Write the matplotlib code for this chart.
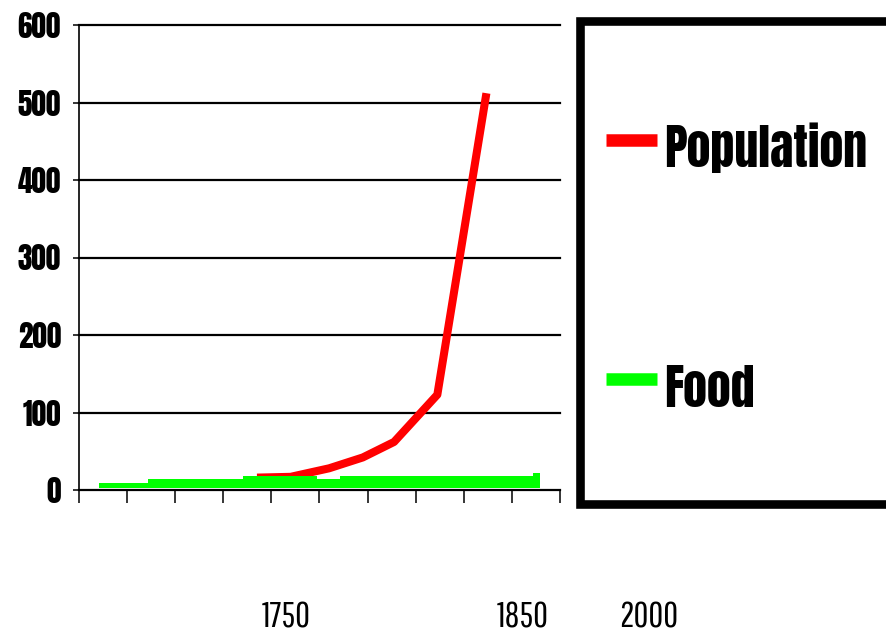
import matplotlib
matplotlib.use("Agg")
import matplotlib.pyplot as plt
from matplotlib.patches import Rectangle
from matplotlib.lines import Line2D

# ---- data ----
pop_x = [3.7, 4.4, 5.2, 5.9, 6.55, 7.45, 8.47]
pop_y = [16, 17, 28, 42, 62, 123, 512]

food_x = [0.42, 1.43, 3.41, 4.95, 5.43, 9.44, 9.58]
food_y = [9.4, 13.8, 18, 13.8, 18, 22, 22]
food_base = 2.2

y_ticks = [0, 100, 200, 300, 400, 500, 600]
x_ticks = list(range(11))
year_labels = ["1750", "1850", "2000"]
year_pos_px = [286.5, 522.5, 649]
series_names = ["Population", "Food"]

W, H = 887, 636
BOLD_NARROW = ["Anton", "Oswald", "DejaVu Sans"]
TICK_FONT = ["Anton", "Oswald", "DejaVu Sans"]
THIN_NARROW = ["Pathway Gothic One", "League Gothic", "DejaVu Sans"]

fig = plt.figure(figsize=(W / 100, H / 100), dpi=100)
fig.patch.set_facecolor("white")
ax = fig.add_axes([79 / W, 146 / H, (560 - 79) / W, (490 - 25) / H])
ax.set_facecolor("white")

ax.set_xlim(0, 10)
ax.set_ylim(0, 600)
ax.set_xticks(x_ticks)
ax.set_xticklabels([])
ax.set_yticks(y_ticks)
ax.set_yticklabels([str(v) for v in y_ticks])

for s in ["top", "right"]:
    ax.spines[s].set_visible(False)
for s in ["left", "bottom"]:
    ax.spines[s].set_color("black")
    ax.spines[s].set_linewidth(1.2)

ax.yaxis.grid(True, color="black", linewidth=1.6)
ax.set_axisbelow(True)
for gl in ax.get_ygridlines():
    gl.set_clip_on(False)

ax.tick_params(axis="x", direction="out", length=9.4, width=1.1, color="black")
ax.tick_params(axis="y", direction="out", length=4.3, width=1.1, color="black", pad=8.6)
for lbl in ax.get_yticklabels():
    lbl.set_fontfamily(TICK_FONT)
    lbl.set_fontsize(21)

# series
ax.plot(pop_x, pop_y, color="#ff0000", linewidth=5.8, solid_capstyle="butt",
        solid_joinstyle="round", zorder=3)
ax.fill_between(food_x, food_base, food_y, step="post", color="#00ff00",
                linewidth=0, zorder=4)

# year labels below the axis
for lab, px in zip(year_labels, year_pos_px):
    fig.text(px / W, 1 - 628 / H, lab, ha="center", va="baseline",
             fontsize=26, family=THIN_NARROW, color="black")

# manual legend box
fig.add_artist(Rectangle((580.5 / W, 1 - 504 / H), (892 - 580.5) / W, (504 - 20.5) / H,
                         transform=fig.transFigure, facecolor="white",
                         edgecolor="black", linewidth=6.2, zorder=1))
handles = [(140, 167, "#ff0000"), (379, 407, "#00ff00")]
for (cy, base, col), name in zip(handles, series_names):
    fig.add_artist(Line2D([606 / W, 657 / W], [1 - cy / H, 1 - cy / H],
                          transform=fig.transFigure, color=col, linewidth=9,
                          solid_capstyle="butt", zorder=2))
    fig.text(664 / W, 1 - base / H, name, ha="left", va="baseline",
             fontsize=34.5, family=BOLD_NARROW, color="black", zorder=3)

fig.savefig("out.png", dpi=100, facecolor="white")
